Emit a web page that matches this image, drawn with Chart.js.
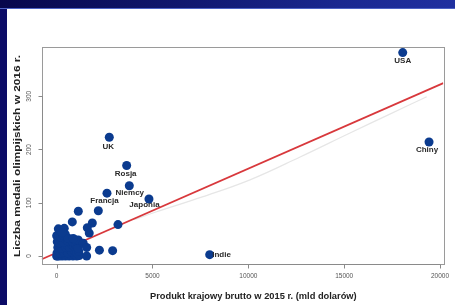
<!DOCTYPE html>
<html>
<head>
<meta charset="utf-8">
<script src="https://cdn.jsdelivr.net/npm/chart.js@4.4.0/dist/chart.umd.min.js"></script>
<style>
    html, body { margin: 0; padding: 0; }
    body { width: 455px; height: 305px; background: #0b0b66; position: relative; overflow: hidden; }
    #topband {
        position: absolute; left: 0; top: 0; width: 455px; height: 9px;
        background: linear-gradient(90deg, #07074c, #10176e 40%, #1a2890 75%, #2030a0);
        border-bottom: 1px solid #4d62c4; box-sizing: border-box;
    }
    #wrap { position: absolute; left: 7px; top: 9px; width: 448px; height: 296px; background: #fff; }
</style>
</head>
<body>
<div id="topband"></div>
<div id="wrap"><canvas id="chart" width="448" height="296"></canvas></div>
<script>
/* ---------------- Data ---------------- */
// labelled countries
const namedCountries = ["USA", "Chiny", "UK", "Rosja", "Niemcy", "Francja", "Japonia", "Indie"];
const namedGdp       = [18054, 19426, 2746, 3652, 3790, 2625, 4816, 7983];
const namedMedals    = [382, 214, 223, 170, 132, 118, 107, 2.5];

// everyone else
const otherGdp = [
    0, 40, 90, 150, 220, 300, 380, 470, 560, 650, 750, 850, 950, 1050, 1180,
    20, 110, 200, 290, 380, 480, 580, 690, 800, 920, 1040, 1150,
    60, 160, 260, 360, 460, 560, 680, 790, 900, 1010, 1120,
    30, 130, 240, 350, 470, 590, 700, 820, 950, 1127,
    0, 100, 210, 330, 450, 605, 866,
    87, 200, 397, 300,
    1388, 1565, 1565, 2230, 2920,
    816, 1130, 2174, 1860, 3200, 1600, 1700
];
const otherMedals = [
    0, 0, 1, 0, 2, 0, 1, 0, 2, 0, 1, 0, 2, 0, 1,
    6, 9, 5, 11, 7, 10, 6, 12, 8, 10, 6, 9,
    16, 19, 15, 21, 17, 20, 16, 22, 18, 20, 15,
    27, 25, 29, 26, 31, 28, 32, 27, 30, 30,
    38, 40, 36, 39, 41, 33, 33,
    51, 47, 52, 44,
    24, 16, 0, 11, 10,
    64, 84, 85, 62, 59, 53, 43
];

// regression line (ends at the plot edges) and the faint smoother
const trendX = [-780, 20170];
const trendY = [-6, 324.6];
const smoothX = [4000, 5218, 7600, 10086, 12700, 15304, 17300, 19306];
const smoothY = [68, 83, 111, 143, 186, 231, 265, 299];

// axes
const xTicks = [0, 5000, 10000, 15000, 20000];
const yTicks = [0, 100, 200, 300];
const xTitle = "Produkt krajowy brutto w 2015 r. (mld dolarów)";
const yTitle = "Liczba medali olimpijskich w 2016 r.";

/* ---------------- Helpers ---------------- */
const pts = (xs, ys) => xs.map((v, i) => ({ x: v, y: ys[i] }));

// label placement relative to its dot
const labelOffset = {
    USA: [0, 8.5], Chiny: [-2, 8], UK: [-1, 10], Rosja: [-1, 8],
    Niemcy: [0.5, 7.5], Francja: [-2.5, 8], Japonia: [-4.5, 5.5]
};

/* ---------------- Custom axes / text ---------------- */
const rAxes = {
    id: "rAxes",
    afterDatasetsDraw(chart) {
        const { ctx, chartArea: a, scales: { x, y } } = chart;
        ctx.save();

        // box
        ctx.strokeStyle = "#9a9a9a";
        ctx.lineWidth = 1;
        ctx.strokeRect(Math.round(a.left) + 0.5, Math.round(a.top) + 0.5,
            Math.round(a.right - a.left), Math.round(a.bottom - a.top));

        // x ticks
        ctx.strokeStyle = "#8a8a8a";
        ctx.fillStyle = "#555";
        ctx.font = "6.5px 'Liberation Sans', Arial, sans-serif";
        ctx.textAlign = "center";
        ctx.textBaseline = "middle";
        const xb = Math.round(a.bottom) + 0.5;
        ctx.beginPath();
        ctx.moveTo(x.getPixelForValue(xTicks[0]), xb);
        ctx.lineTo(x.getPixelForValue(xTicks[xTicks.length - 1]), xb);
        xTicks.forEach(v => {
            const px = Math.round(x.getPixelForValue(v)) + 0.5;
            ctx.moveTo(px, xb);
            ctx.lineTo(px, xb + 4);
        });
        ctx.stroke();
        xTicks.forEach(v => ctx.fillText(String(v), x.getPixelForValue(v), a.bottom + 12.7));

        // y ticks (rotated like base R)
        const yl = Math.round(a.left) + 0.5;
        ctx.beginPath();
        ctx.moveTo(yl, y.getPixelForValue(yTicks[0]));
        ctx.lineTo(yl, y.getPixelForValue(yTicks[yTicks.length - 1]));
        yTicks.forEach(v => {
            const py = Math.round(y.getPixelForValue(v)) + 0.5;
            ctx.moveTo(yl, py);
            ctx.lineTo(yl - 4, py);
        });
        ctx.stroke();
        yTicks.forEach(v => {
            ctx.save();
            ctx.translate(a.left - 12.4, y.getPixelForValue(v));
            ctx.rotate(-Math.PI / 2);
            ctx.fillText(String(v), 0, 0);
            ctx.restore();
        });

        // titles
        ctx.fillStyle = "#222";
        ctx.font = "bold 9px 'Liberation Sans', Arial, sans-serif";
        let w = ctx.measureText(xTitle).width;
        ctx.save();
        ctx.translate(246.3, 287.5);
        ctx.scale(206.7 / w, 1);
        ctx.fillText(xTitle, 0, 0);
        ctx.restore();

        w = ctx.measureText(yTitle).width;
        ctx.save();
        ctx.translate(10.5, 147);
        ctx.rotate(-Math.PI / 2);
        ctx.scale(202 / w, 1.05);
        ctx.fillText(yTitle, 0, 0);
        ctx.restore();

        // country labels
        ctx.fillStyle = "#2a2a2a";
        ctx.font = "bold 8px 'Liberation Sans', Arial, sans-serif";
        const meta = chart.getDatasetMeta(0);
        namedCountries.forEach((name, i) => {
            const p = meta.data[i];
            if (name === "Indie") {
                ctx.textAlign = "left";
                ctx.fillText(name, p.x + 2.5, p.y + 0.5);
            } else {
                const [dx, dy] = labelOffset[name];
                ctx.textAlign = "center";
                ctx.fillText(name, p.x + dx, p.y + dy);
            }
        });

        ctx.restore();
    }
};

/* ---------------- Chart ---------------- */
const dotColor = "#0b3b8f";

new Chart(document.getElementById("chart"), {
    type: "scatter",
    data: {
        datasets: [
            {
                data: pts(namedGdp, namedMedals),
                backgroundColor: dotColor, borderWidth: 0, pointRadius: 4.5
            },
            {
                data: pts(otherGdp, otherMedals),
                backgroundColor: dotColor, borderWidth: 0, pointRadius: 4.5
            },
            {
                data: pts(trendX, trendY),
                showLine: true, pointRadius: 0,
                borderColor: "#d8383c", borderWidth: 1.8
            },
            {
                data: pts(smoothX, smoothY),
                showLine: true, pointRadius: 0, tension: 0.4,
                borderColor: "#e6e6e6", borderWidth: 1.2
            }
        ]
    },
    options: {
        responsive: false,
        devicePixelRatio: 1,
        animation: false,
        events: [],
        layout: { padding: { left: 34.7, right: 11.7, top: 37.7, bottom: 41 } },
        plugins: { legend: { display: false }, tooltip: { enabled: false } },
        scales: {
            x: { type: "linear", min: -780, max: 20170, display: false },
            y: { type: "linear", min: -15, max: 393, display: false }
        }
    },
    plugins: [rAxes]
});
</script>
</body>
</html>
